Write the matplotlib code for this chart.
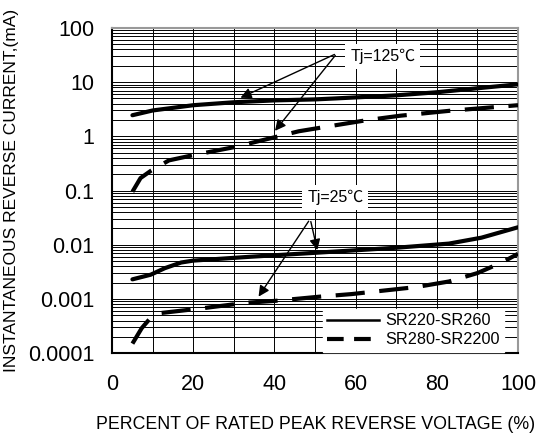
import matplotlib
matplotlib.use("Agg")
import matplotlib.pyplot as plt
from matplotlib.lines import Line2D
from matplotlib.ticker import LogLocator, FixedLocator, NullFormatter

plt.rcParams["font.family"] = ["Liberation Sans", "Noto Sans CJK SC", "DejaVu Sans"]

x_hot_std = [5, 10, 20, 30, 40, 50, 55, 70, 80, 90, 100]
y_hot_std = [2.45, 3.0, 3.75, 4.25, 4.6, 4.8, 5.0, 5.7, 6.5, 7.7, 9.1]

x_hot_hv = [5, 7, 9.5, 14, 20, 30, 40, 46, 55, 63, 71, 83, 100]
y_hot_hv = [0.095, 0.17, 0.23, 0.36, 0.45, 0.63, 0.96, 1.24, 1.6, 2.0, 2.4, 2.95, 3.75]

x_cold_std = [5, 9.5, 13, 17, 20, 34, 50, 70, 83, 91, 100]
y_cold_std = [0.0023, 0.0028, 0.0037, 0.0047, 0.0051, 0.006, 0.0071, 0.0088, 0.0105, 0.0135, 0.021]

x_cold_hv = [5, 7.3, 9.5, 12, 22, 33, 40, 51, 59, 75, 83, 90, 96, 100]
y_cold_hv = [0.00015, 0.00029, 0.00045, 0.00055, 0.00067, 0.00085, 0.00092, 0.0011,
             0.00123, 0.00166, 0.0021, 0.003, 0.0047, 0.0068]

labels = ["SR220-SR260", "SR280-SR2200"]
x_ticks = [0, 20, 40, 60, 80, 100]
y_ticks = [0.0001, 0.001, 0.01, 0.1, 1, 10, 100]
y_tick_labels = ["0.0001", "0.001", "0.01", "0.1", "1", "10", "100"]

fig = plt.figure(figsize=(5.47, 4.36), dpi=100)
ax = fig.add_axes([0.205, 0.19, 0.742, 0.746])

dash = (0, (7, 3.5))
ax.plot(x_hot_std, y_hot_std, color="black", lw=3, solid_capstyle="round", zorder=3)
ax.plot(x_hot_hv, y_hot_hv, color="black", lw=3, linestyle=dash, zorder=3)
ax.plot(x_cold_std, y_cold_std, color="black", lw=3, solid_capstyle="round", zorder=3)
ax.plot(x_cold_hv, y_cold_hv, color="black", lw=3, linestyle=dash, zorder=3)

ax.set_yscale("log")
ax.set_xlim(0, 100)
ax.set_ylim(0.0001, 100)
ax.set_xticks(x_ticks)
ax.xaxis.set_minor_locator(FixedLocator(list(range(10, 100, 10))))
ax.set_yticks(y_ticks)
ax.set_yticklabels(y_tick_labels)
ax.yaxis.set_minor_locator(LogLocator(base=10, subs=range(2, 10), numticks=20))
ax.yaxis.set_minor_formatter(NullFormatter())
ax.grid(True, which="both", color="black", lw=0.7)
ax.set_axisbelow(True)

ax.tick_params(which="both", length=0, labelsize=15.5)
ax.tick_params(axis="x", pad=15)
ax.tick_params(axis="y", pad=13)

for side in ["left", "bottom"]:
    ax.spines[side].set_color("black")
    ax.spines[side].set_linewidth(1.5)
for side in ["top", "right"]:
    ax.spines[side].set_color("#999999")
    ax.spines[side].set_linewidth(1.5)

ax.set_xlabel("PERCENT OF RATED PEAK REVERSE VOLTAGE (%)", fontsize=12.8, labelpad=15)
ax.set_ylabel("INSTANTANEOUS REVERSE CURRENT,(mA)", fontsize=12.5, labelpad=6)

box = dict(boxstyle="square,pad=0.3", fc="white", ec="none")
arrow = dict(arrowstyle="-|>", color="black", lw=1, mutation_scale=16)

ax.text(66.7, 30, "Tj=125℃", fontsize=11.5, ha="center", va="center", bbox=box, zorder=4)
ax.annotate("", xy=(31, 4.9), xytext=(55.4, 34), arrowprops=arrow, zorder=4)
ax.annotate("", xy=(39.7, 1.15), xytext=(55.4, 34), arrowprops=arrow, zorder=4)

ax.text(55, 0.074, "Tj=25℃", fontsize=11.5, ha="center", va="center", bbox=box, zorder=4)
ax.annotate("", xy=(35.7, 0.001), xytext=(48.8, 0.03), arrowprops=arrow, zorder=4)
ax.annotate("", xy=(50.7, 0.0071), xytext=(48.8, 0.03), arrowprops=arrow, zorder=4)

handles = [Line2D([], [], color="black", lw=1.8),
           Line2D([], [], color="black", lw=3, linestyle=(0, (4, 2.5)))]
leg = ax.legend(handles, labels, loc="lower right", bbox_to_anchor=(0.97, 0.0), borderaxespad=0.1,
                fontsize=11.7, handlelength=3.2, handletextpad=0.4, frameon=True, fancybox=False,
                framealpha=1, edgecolor="white", borderpad=0.25, labelspacing=0.25)
leg.set_zorder(5)

fig.savefig("out.png", dpi=100)
